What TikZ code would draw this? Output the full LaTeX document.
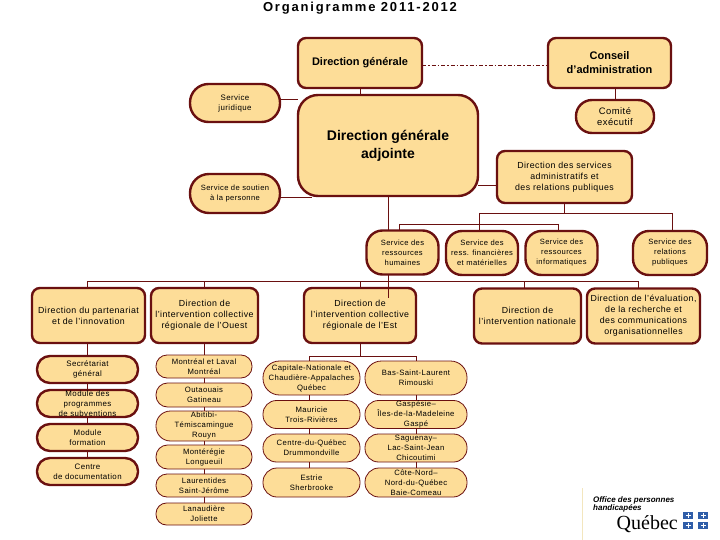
\documentclass[tikz,border=0pt]{standalone}
\usepackage{fontspec}
\setmainfont{Liberation Sans}
\newfontfamily\labelfont[LetterSpace=5]{Liberation Sans}
\newfontfamily\titlefont[LetterSpace=14]{Liberation Sans}
\newfontfamily\logoserif{Liberation Serif}
\usetikzlibrary{positioning,calc}
\definecolor{boxfill}{HTML}{FDDD98}
\definecolor{boxline}{HTML}{6A1010}
\definecolor{logoblue}{HTML}{2F5DA8}
\definecolor{logorule}{HTML}{F3E6BE}

\begin{document}
\begin{tikzpicture}[
    x=1pt, y=-1pt,
    base/.style={draw=boxline, fill=boxfill, align=center, outer sep=0pt, inner xsep=0pt, inner ysep=-5pt},
    boss/.style={base, line width=2.4pt, rounded corners=8pt, font=\fontsize{11}{14}\selectfont\bfseries},
    dirbox/.style={base, line width=2.4pt, rounded corners=8pt, minimum width=#1pt, minimum height=55pt, font=\labelfont\fontsize{8.8}{11}\selectfont},
    pill/.style={base, line width=2.4pt, rounded corners=13pt, minimum width=#1pt, font=\labelfont\fontsize{7.9}{10}\selectfont},
    svc/.style={base, line width=2.4pt, rounded corners=16pt, minimum width=72pt, minimum height=44pt, font=\labelfont\fontsize{7.6}{10}\selectfont},
    region/.style={base, line width=0.8pt, minimum width=#1pt, font=\labelfont\fontsize{7.7}{10}\selectfont},
    link/.style={draw=boxline, line width=0.9pt},
  ]
  \useasboundingbox (0,0) rectangle (720,540);

  % Title
  \node[font=\titlefont\fontsize{13}{15}\selectfont\bfseries] (title) at (360, 8) {Organigramme 2011-2012};

  % Top of the chart
  \node[boss, minimum width=124pt, minimum height=50pt] (dg) at (360, 63) {Direction générale};
  \node[boss, minimum width=123pt, minimum height=50pt] (ca) at (609.5, 63) {Conseil\\d’administration};
  \node[base, line width=2.4pt, rounded corners=20pt, minimum width=180pt, minimum height=101pt, font=\fontsize{14}{18}\selectfont\bfseries] (dga) at (388, 145.5) {Direction générale\\adjointe};
  \node[pill=90, minimum height=38pt, rounded corners=18.5pt] (juridique) at (235, 103) {Service\\juridique};
  \node[pill=90, minimum height=39pt, rounded corners=19pt, font=\labelfont\fontsize{7.6}{10}\selectfont] (soutien) at (235, 193.5) {Service de soutien\\à la personne};
  \node[pill=78, minimum height=33pt, rounded corners=16pt, font=\labelfont\fontsize{9.4}{11.5}\selectfont] (comite) at (615, 116.5) {Comité\\exécutif};
  \node[dirbox=135, minimum height=52pt] (dsa) at (564.5, 177) {Direction des services\\administratifs et\\des relations publiques};

  % Services
  \node[svc] (rh)   at (402.5, 252.5) {Service des\\ressources\\humaines};
  \node[svc] (rf)   at (482, 253) {Service des\\ress. financières\\et matérielles};
  \node[svc] (ri)   at (561.5, 253) {Service des\\ressources\\informatiques};
  \node[svc, minimum width=74pt] (rp) at (670, 253) {Service des\\relations\\publiques};

  % Directions
  \node[dirbox=113] (dpi)   at (88.5, 315.5)  {Direction du partenariat\\et de l’innovation};
  \node[dirbox=107] (ouest) at (204.5, 315.5) {Direction de\\l’intervention collective\\régionale de l’Ouest};
  \node[dirbox=112] (est)   at (360, 315.5)   {Direction de\\l’intervention collective\\régionale de l’Est};
  \node[dirbox=107] (dinat) at (527.5, 316)   {Direction de\\l’intervention nationale};
  \node[dirbox=113] (deval) at (643.5, 316)   {Direction de l’évaluation,\\de la recherche et\\des communications\\organisationnelles};

  % Column under partnership
  \node[pill=101, minimum height=27pt] (secgen)  at (87.5, 369.5) {Secrétariat\\général};
  \node[pill=101, minimum height=27pt] (modprog) at (87.5, 403.5) {Module des\\programmes\\de subventions};
  \node[pill=101, minimum height=27pt] (modform) at (87.5, 437.5) {Module\\formation};
  \node[pill=101, minimum height=27pt] (centre)  at (87.5, 471.5) {Centre\\de documentation};

  % Column under Ouest
  \node[region=96, minimum height=23pt, rounded corners=11pt] (mtl)  at (204, 366.5) {Montréal et Laval\\Montréal};
  \node[region=96, minimum height=24pt, rounded corners=11.5pt] (outa) at (204, 395)   {Outaouais\\Gatineau};
  \node[region=96, minimum height=30pt, rounded corners=14.5pt] (abit) at (204, 426)   {Abitibi-\\Témiscamingue\\Rouyn};
  \node[region=96, minimum height=24pt, rounded corners=11.5pt] (mont) at (204, 457)   {Montérégie\\Longueuil};
  \node[region=96, minimum height=23pt, rounded corners=11pt] (laur) at (204, 485.5) {Laurentides\\Saint-Jérôme};
  \node[region=96, minimum height=22pt, rounded corners=10.5pt] (lana) at (204, 514)   {Lanaudière\\Joliette};

  % Columns under Est
  \node[region=97, minimum height=34pt, rounded corners=16.5pt]  (capn) at (311.5, 378)  {Capitale-Nationale et\\Chaudière-Appalaches\\Québec};
  \node[region=97, minimum height=28pt, rounded corners=13.5pt]  (maur) at (311.5, 414.5) {Mauricie\\Trois-Rivières};
  \node[region=97, minimum height=28pt, rounded corners=13.5pt]  (cdq)  at (311.5, 448)  {Centre-du-Québec\\Drummondville};
  \node[region=97, minimum height=29pt, rounded corners=14pt]  (estr) at (311.5, 482.5) {Estrie\\Sherbrooke};
  \node[region=102, minimum height=34pt, rounded corners=16.5pt] (bsl)  at (416, 378)    {Bas-Saint-Laurent\\Rimouski};
  \node[region=102, minimum height=28pt, rounded corners=13.5pt] (gasp) at (416, 414.5)  {Gaspésie–\\Îles-de-la-Madeleine\\Gaspé};
  \node[region=102, minimum height=28pt, rounded corners=13.5pt] (sagu) at (416, 448)    {Saguenay–\\Lac-Saint-Jean\\Chicoutimi};
  \node[region=102, minimum height=29pt, rounded corners=14pt] (cote) at (416, 482.5)  {Côte-Nord–\\Nord-du-Québec\\Baie-Comeau};

  % Bus points
  \coordinate (busw) at (87.5, 281);
  \coordinate (buse) at (638, 281);
  \coordinate (busnat) at (524, 281);
  \coordinate (rhtail) at (388, 298);
  \coordinate (svcw) at (479, 213);
  \coordinate (svce) at (672, 213);
  \coordinate (svcmid) at (564.5, 213);
  \coordinate (svc2w) at (399, 224);
  \coordinate (svc2e) at (558, 224);
  \coordinate (estbus) at (360, 356);
  \coordinate (estbusw) at (309, 356);
  \coordinate (estbuse) at (416, 356);

  % Top edges
  \draw[link] (dg.south) -- (dg.south |- dga.north);
  \draw[link, dash pattern=on 4pt off 2pt on 1.5pt off 2pt] ([yshift=-2pt]dg.east) -- ([yshift=-2pt]dg.east -| ca.west);
  \draw[link] (ca.south -| comite.north) -- (comite.north);
  \draw[link] ([yshift=4pt]juridique.east) -- ([yshift=4pt]juridique.east -| dga.west);
  \draw[link] ([yshift=-4pt]soutien.east) -- ([yshift=-4pt,xshift=14pt]soutien.east -| dga.west);
  \draw[link] ([yshift=-8pt]dsa.west) -- ([yshift=-8pt]dsa.west -| dga.east);

  % Main bus
  \draw[link] (dga.south) -- (rh.north -| dga.south);
  \draw[link] (rh.south -| rhtail) -- (rhtail);
  \draw[link] (busw) -- (buse);
  \draw[link] (busw) -- (dpi.north -| busw);
  \draw[link] (ouest.north) -- (ouest.north |- busw);
  \draw[link] (est.north) -- (est.north |- busw);
  \draw[link] (dinat.north -| busnat) -- (busnat);
  \draw[link] (deval.north -| buse) -- (buse);

  % Services edges
  \draw[link] (dsa.south -| svcmid) -- (svcmid);
  \draw[link] (svcw) -- (svce);
  \draw[link] (svcw) -- (rf.north -| svcw);
  \draw[link] (svce) -- (rp.north -| svce);
  \draw[link] (svc2w) -- (svc2e);
  \draw[link] (svc2w) -- (rh.north -| svc2w);
  \draw[link] (svc2e) -- (ri.north -| svc2e);

  % Partnership chain
  \draw[link] (dpi.south -| secgen.north) -- (secgen.north);
  \draw[link] (secgen) -- (modprog);
  \draw[link] (modprog) -- (modform);
  \draw[link] (modform) -- (centre);

  % Ouest chain
  \draw[link] (ouest.south -| mtl.north) -- (mtl.north);
  \draw[link] (mtl) -- (outa);
  \draw[link] (outa) -- (abit);
  \draw[link] (abit) -- (mont);
  \draw[link] (mont) -- (laur);
  \draw[link] (laur) -- (lana);

  % Est chains
  \draw[link] (est.south) -- (estbus);
  \draw[link] (estbusw) -- (estbuse);
  \draw[link] (estbusw) -- (capn.north -| estbusw);
  \draw[link] (capn.south -| estbusw) -- (maur.north -| estbusw);
  \draw[link] (maur.south -| estbusw) -- (cdq.north -| estbusw);
  \draw[link] (cdq.south -| estbusw) -- (estr.north -| estbusw);
  \draw[link] (estbuse) -- (bsl.north);
  \draw[link] (bsl) -- (gasp);
  \draw[link] (gasp) -- (sagu);
  \draw[link] (sagu) -- (cote);

  % Logo
  \draw[logorule, line width=0.6pt] (582, 488) -- (582, 540);
  \node[anchor=north west, inner sep=0pt, align=left, font=\fontsize{8}{7.7}\selectfont\bfseries\itshape] (office) at (593, 496.5) {Office des personnes\\handicapées};
  \node[anchor=east, inner sep=0pt, font=\logoserif\fontsize{20}{20}\selectfont] (quebec) at (678, 524) {Québec};
  \foreach \fx/\fy in {688/515.5, 703/515.5, 688/525.5, 703/525.5} {
    \fill[logoblue] (\fx-5, \fy-3.5) rectangle (\fx+5, \fy+3.5);
    \fill[white] (\fx-0.5, \fy-2.5) rectangle (\fx+0.5, \fy+2.5);
    \fill[white] (\fx-2.5, \fy-0.5) rectangle (\fx+2.5, \fy+0.5);
  }
\end{tikzpicture}
\end{document}
